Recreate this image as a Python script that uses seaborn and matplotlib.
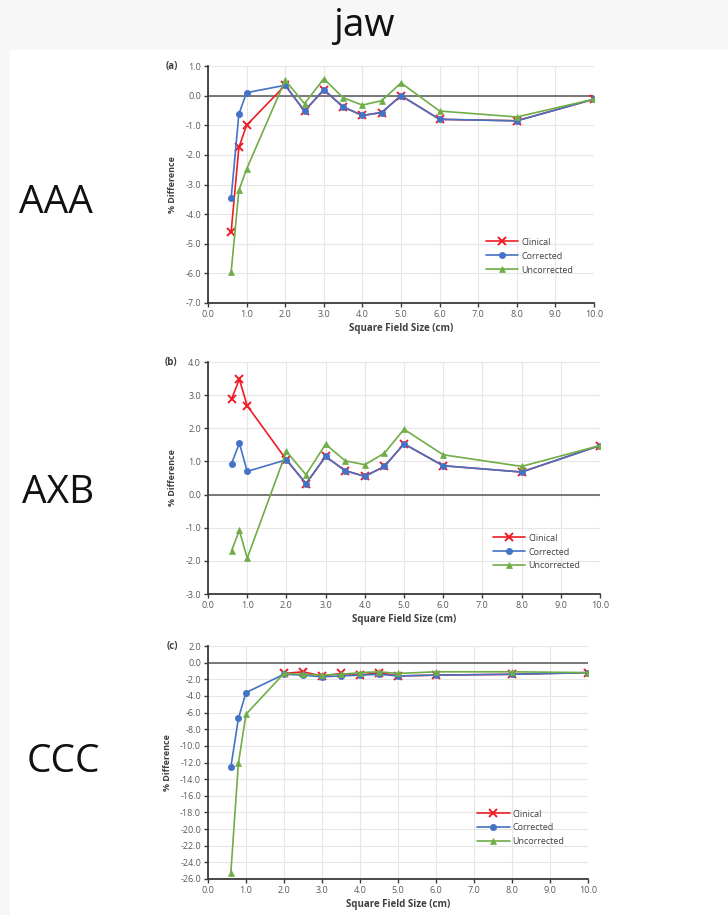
import matplotlib
matplotlib.use("Agg")
import matplotlib.pyplot as plt
from matplotlib.patches import Rectangle
import numpy as np
import seaborn as sns

field_size = [0.6, 0.8, 1.0, 2.0, 2.5, 3.0, 3.5, 4.0, 4.5, 5.0, 6.0, 8.0, 10.0]
series_names = ["Clinical", "Corrected", "Uncorrected"]

# (a) AAA
aaa_clinical = [-4.6, -1.75, -1.0, 0.35, -0.52, 0.2, -0.38, -0.67, -0.57, 0.0, -0.8, -0.85, -0.12]
aaa_corrected = [-3.45, -0.62, 0.1, 0.35, -0.52, 0.2, -0.38, -0.67, -0.57, 0.0, -0.8, -0.85, -0.12]
aaa_uncorrected = [-5.95, -3.2, -2.48, 0.52, -0.27, 0.57, -0.07, -0.32, -0.17, 0.43, -0.52, -0.72, -0.12]

# (b) AXB
axb_clinical = [2.88, 3.48, 2.68, 1.05, 0.33, 1.15, 0.72, 0.55, 0.85, 1.53, 0.87, 0.68, 1.48]
axb_corrected = [0.93, 1.55, 0.7, 1.05, 0.33, 1.15, 0.72, 0.55, 0.85, 1.53, 0.87, 0.68, 1.48]
axb_uncorrected = [-1.7, -1.08, -1.92, 1.3, 0.6, 1.52, 1.02, 0.9, 1.25, 1.97, 1.2, 0.85, 1.48]

# (c) CCC - no clinical points visible below 2 cm
ccc_clinical = [np.nan, np.nan, np.nan, -1.3, -1.1, -1.6, -1.3, -1.5, -1.2, -1.6, -1.5, -1.4, -1.2]
ccc_corrected = [-12.6, -6.7, -3.6, -1.4, -1.5, -1.7, -1.6, -1.5, -1.4, -1.6, -1.5, -1.4, -1.2]
ccc_uncorrected = [-25.3, -12.1, -6.2, -1.3, -1.4, -1.5, -1.4, -1.2, -1.1, -1.3, -1.1, -1.1, -1.2]

row_labels = ["AAA", "AXB", "CCC"]
panel_tags = ["(a)", "(b)", "(c)"]
y_limits = [(-7, 1), (-3, 4), (-26, 2)]
y_steps = [1.0, 1.0, 2.0]

colors = ["#ee1c25", "#4472c4", "#70ad47"]
markers = ["x", "o", "^"]

sns.set_theme(style="white")
plt.rcParams["font.family"] = ["Open Sans", "DejaVu Sans"]
plt.rcParams["axes.unicode_minus"] = False

fig = plt.figure(figsize=(7.28, 9.15), dpi=100, facecolor="#f7f7f7")
fig.patches.append(Rectangle((10 / 728, 0), 1, 1 - 50 / 915, transform=fig.transFigure,
                             facecolor="white", edgecolor="none", zorder=-5))
fig.text(0.5, 1 - 26 / 915, "jaw", ha="center", va="center", fontsize=28, color="#111111")

# axes boxes in pixels: left, right, top, bottom
boxes = [(208, 594, 66, 303), (208, 600, 362, 594), (208, 588, 646, 879)]
legend_pos = [(0.72, 0.198), (0.727, 0.181), (0.708, 0.219)]
label_xy = [(56, 203), (58, 493), (63, 762)]

data = [
    [aaa_clinical, aaa_corrected, aaa_uncorrected],
    [axb_clinical, axb_corrected, axb_uncorrected],
    [ccc_clinical, ccc_corrected, ccc_uncorrected],
]

for i, (l, r, t, b) in enumerate(boxes):
    ax = fig.add_axes([l / 728, 1 - b / 915, (r - l) / 728, (b - t) / 915])
    ax.set_facecolor("none")
    ax.axhline(0, color="#6e6e6e", lw=1.3, zorder=1)
    for name, vals, c, m in zip(series_names, data[i], colors, markers):
        sns.lineplot(x=field_size, y=vals, ax=ax, color=c, marker=m, label=name,
                     lw=1.2, markersize=4.5 if m != "x" else 5.5,
                     markeredgewidth=1.4 if m == "x" else 0.5,
                     markeredgecolor=c, zorder=3)
    ymin, ymax = y_limits[i]
    ax.set_xlim(0, 10)
    ax.set_ylim(ymin, ymax)
    ax.set_xticks(np.arange(0, 10.01, 1.0))
    ax.set_yticks(np.arange(ymin, ymax + 0.01, y_steps[i]))
    ax.xaxis.set_major_formatter(matplotlib.ticker.FormatStrFormatter("%.1f"))
    ax.yaxis.set_major_formatter(matplotlib.ticker.FormatStrFormatter("%.1f"))
    ax.grid(True, color="#e6e6e6", lw=0.8, zorder=0)
    for s in ["top", "right"]:
        ax.spines[s].set_visible(False)
    for s in ["left", "bottom"]:
        ax.spines[s].set_color("#3a3a3a")
        ax.spines[s].set_linewidth(1.3)
    ax.tick_params(axis="both", labelsize=6.5, colors="#595959", length=3, width=1.0,
                   direction="out", pad=2, bottom=True, left=True)
    ax.tick_params(axis="both", color="#3a3a3a")
    ax.set_xlabel("Square Field Size (cm)", fontsize=7, fontweight="bold", color="#404040", labelpad=3)
    ax.set_ylabel("% Difference", fontsize=6.5, fontweight="bold", color="#404040", labelpad=6)
    ax.text(-0.078, 1.0, panel_tags[i], transform=ax.transAxes, fontsize=7,
            fontweight="bold", color="#404040", ha="right", va="center")
    leg = ax.legend(loc="center left", bbox_to_anchor=legend_pos[i], frameon=False,
                    fontsize=6.5, handlelength=3.6, handletextpad=0.3, labelspacing=0.55,
                    borderaxespad=0, borderpad=0)
    for txt in leg.get_texts():
        txt.set_color("#404040")
    lx, ly = label_xy[i]
    fig.text(lx / 728, 1 - ly / 915, row_labels[i], ha="center", va="center",
             fontsize=28, color="#111111")

fig.savefig("out.png", dpi=100, facecolor=fig.get_facecolor())
